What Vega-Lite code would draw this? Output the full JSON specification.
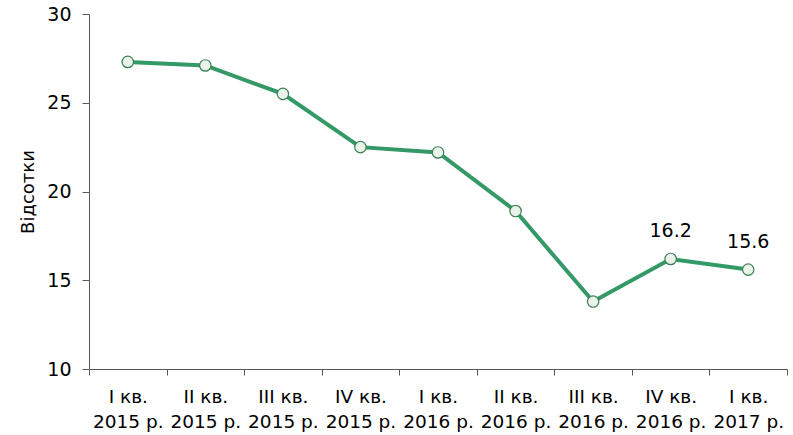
{
  "$schema": "https://vega.github.io/schema/vega-lite/v6.json",
  "width": 698,
  "height": 355,
  "autosize": {"type": "none"},
  "padding": {"left": 89, "top": 14, "right": 6, "bottom": 66},
  "background": "white",
  "config": {
    "view": {"stroke": null},
    "font": "DejaVu Sans",
    "axis": {"domainColor": "#595959", "tickColor": "#595959", "labelColor": "#000000", "titleColor": "#000000", "grid": false}
  },
  "data": {
    "values": [
      {"q": "I кв.|2015 р.", "v": 27.3, "lab": ""},
      {"q": "II кв.|2015 р.", "v": 27.1, "lab": ""},
      {"q": "III кв.|2015 р.", "v": 25.5, "lab": ""},
      {"q": "IV кв.|2015 р.", "v": 22.5, "lab": ""},
      {"q": "I кв.|2016 р.", "v": 22.2, "lab": ""},
      {"q": "II кв.|2016 р.", "v": 18.9, "lab": ""},
      {"q": "III кв.|2016 р.", "v": 13.8, "lab": ""},
      {"q": "IV кв.|2016 р.", "v": 16.2, "lab": "16.2"},
      {"q": "I кв.|2017 р.", "v": 15.6, "lab": "15.6"}
    ]
  },
  "encoding": {
    "x": {
      "field": "q", "type": "nominal", "sort": null,
      "scale": {"type": "band", "paddingInner": 0, "paddingOuter": 0},
      "axis": {
        "title": null, "labelAngle": 0, "labelFontSize": 18.5, "labelPadding": 12,
        "labelExpr": "split(datum.label, '|')", "labelLineHeight": 25,
        "tickBand": "extent", "tickSize": 6, "labelBaseline": "top"
      }
    },
    "y": {
      "field": "v", "type": "quantitative",
      "scale": {"domain": [10, 30], "nice": false, "zero": false},
      "axis": {
        "title": "Відсотки", "titleFontSize": 18, "titleFontWeight": "normal",
        "values": [10, 15, 20, 25, 30], "labelFontSize": 19, "labelPadding": 11,
        "tickSize": 7, "titlePadding": 9
      }
    }
  },
  "layer": [
    {"mark": {"type": "line", "color": "#339966", "strokeWidth": 4}},
    {"mark": {"type": "point", "filled": true, "fill": "#eaf3ea", "stroke": "#3b7d55", "strokeWidth": 1.2, "size": 130, "opacity": 1}},
    {"mark": {"type": "text", "dy": -28, "fontSize": 19, "color": "#000000"}, "encoding": {"text": {"field": "lab"}}}
  ]
}
